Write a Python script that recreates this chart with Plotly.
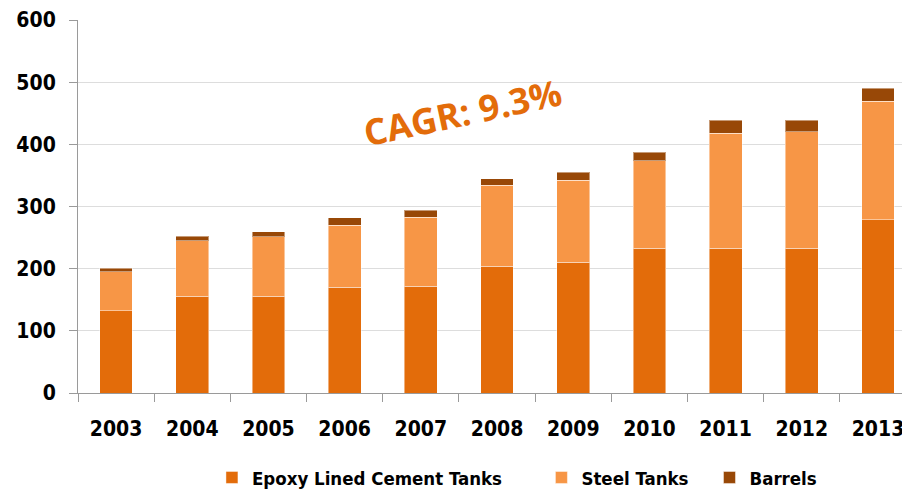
import plotly.graph_objects as go

# Data
years = ["2003", "2004", "2005", "2006", "2007", "2008", "2009", "2010", "2011", "2012", "2013"]
epoxy = [132, 156, 156, 170, 172, 204, 210, 233, 233, 233, 279]
steel = [63, 89, 95, 100, 111, 130, 132, 141, 185, 187, 190]
barrels = [6, 7, 8, 12, 11, 11, 13, 13, 21, 19, 21]

series = [
    ("Epoxy Lined Cement Tanks", epoxy, "#E36C0A", "legend"),
    ("Steel Tanks", steel, "#F79646", "legend2"),
    ("Barrels", barrels, "#984807", "legend3"),
]

label_font = "DejaVu Sans Condensed, Liberation Sans Narrow, sans-serif"

fig = go.Figure()
for name, vals, color, leg in series:
    fig.add_trace(go.Bar(
        x=years,
        y=vals,
        name=name,
        legend=leg,
        showlegend=True,
        width=0.43,
        marker=dict(color=color, line=dict(color="rgba(255,255,255,0.45)", width=1)),
    ))

fig.add_annotation(
    x=0.462, y=0.753, xref="paper", yref="paper",
    xanchor="center", yanchor="middle",
    text="<b>CAGR: 9.3%</b>",
    showarrow=False, textangle=-12,
    font=dict(family="Open Sans, sans-serif", size=36, color="#E36C0A"),
)

# one legend per series so each entry sits where the reference puts it
leg_style = dict(
    orientation="h", yref="container", y=0.023, yanchor="middle", xanchor="left",
    font=dict(family=label_font, size=18.5, color="black", weight="bold"),
    itemwidth=30, bgcolor="rgba(0,0,0,0)",
)

fig.update_layout(
    barmode="stack",
    width=902, height=481,
    margin=dict(l=70, r=0, t=12, b=96),
    plot_bgcolor="white",
    paper_bgcolor="white",
    showlegend=True,
    font=dict(family=label_font, color="black"),
    legend=dict(x=0.161, **leg_style),
    legend2=dict(x=0.557, **leg_style),
    legend3=dict(x=0.759, **leg_style),
    xaxis=dict(
        type="category",
        range=[-0.5, 10.42],
        automargin=False,
        showline=True, linecolor="#9A9A9A", linewidth=1,
        ticks="outside", tickson="boundaries", ticklen=8, tickcolor="#9A9A9A",
        ticklabelstandoff=17,
        tickfont=dict(family=label_font, size=21, color="black", weight="bold"),
        showgrid=False,
    ),
    yaxis=dict(
        range=[0, 600], dtick=100,
        automargin=False,
        showline=True, linecolor="#9A9A9A", linewidth=1,
        ticks="outside", ticklen=8, tickcolor="#9A9A9A",
        ticklabelstandoff=9,
        gridcolor="#DDDDDD", gridwidth=1,
        tickfont=dict(family=label_font, size=21, color="black", weight="bold"),
        zeroline=False,
    ),
)

fig.write_html("out.html")
